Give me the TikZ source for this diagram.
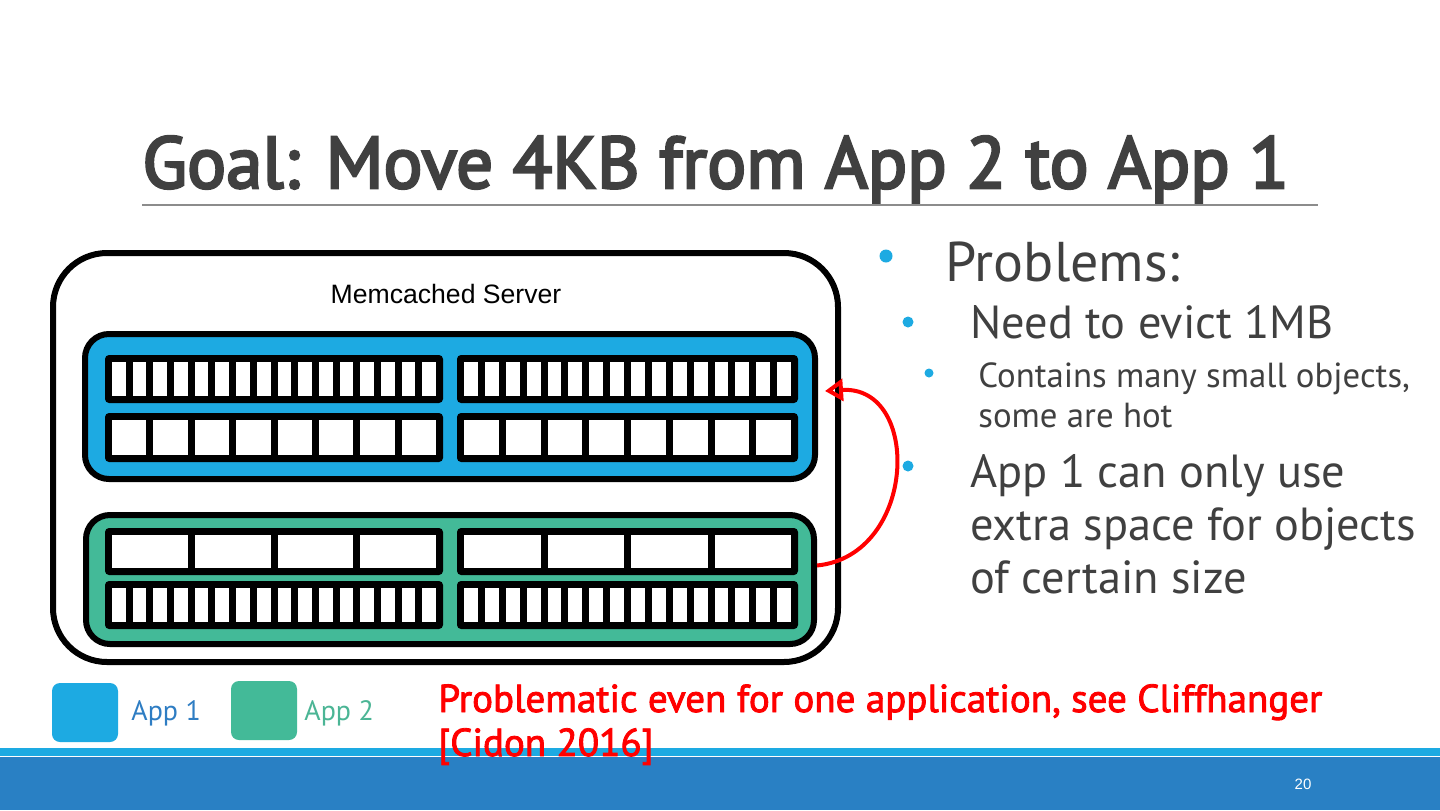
\documentclass[tikz,border=0pt]{standalone}
\usepackage{fontspec}
\setmainfont{PT Sans}
\newfontfamily\titlefont{PT Sans}[FakeBold=3.5]
\newfontfamily\medfont{PT Sans}[FakeBold=2.2]
\newfontfamily\arialfont{Liberation Sans}
\usetikzlibrary{arrows.meta, positioning, calc}
\definecolor{appblue}{RGB}{29,170,226}
\definecolor{appgreen}{RGB}{67,186,152}
\definecolor{titlegrey}{RGB}{64,64,64}
\definecolor{rulegrey}{RGB}{140,140,140}
\definecolor{barblue}{RGB}{41,128,196}
\definecolor{textblue}{RGB}{46,125,195}
\definecolor{textgreen}{RGB}{75,181,149}
\tikzset{
  server/.style={rectangle, draw=black, fill=white, line width=3pt,
    rounded corners=27pt},
  appbox/.style={rectangle, draw=black, line width=3pt, inner sep=0pt,
    rounded corners=12pt},
  legendbox/.style={rectangle, rounded corners=4pt, inner sep=0pt,
    minimum width=33pt, minimum height=29.5pt},
  dot/.style={circle, fill=appblue, inner sep=0pt},
  txt/.style={anchor=base west, inner sep=0pt, text=titlegrey},
  lvlone/.style={txt, font=\fontsize{28}{33}\selectfont},
  lvltwo/.style={txt, font=\fontsize{23.2}{28}\selectfont},
  lvlthree/.style={txt, font=\fontsize{17.4}{21}\selectfont},
  redtext/.style={anchor=base west, inner sep=0pt, text=red,
    font=\medfont\fontsize{19.5}{24}\selectfont},
  movearrow/.style={-{Triangle[open, length=9pt, width=11pt]},
    line width=2pt, color=red}
}
% one slab: black strip with n white cells
\newcommand{\slab}[5]{%
  \fill[black, rounded corners=2pt] (#1,#2) rectangle (#3,#4);
  \pgfmathsetmacro{\cw}{((#3)-(#1)-14-7*((#5)-1))/(#5)}
  \foreach \k in {1,...,#5} {
    \pgfmathsetmacro{\cx}{#1+7+(\k-1)*(\cw+7)}
    \fill[white] (\cx,#2+7) rectangle ({\cx+\cw},#4-7);
  }
}
\begin{document}
\begin{tikzpicture}[x=0.5pt, y=-0.5pt]
  \useasboundingbox (0,0) rectangle (1440,810);
  \fill[white] (0,0) rectangle (1440,810);

  % Title
  \node[txt, font=\titlefont\fontsize{36.5}{42}\selectfont] (title) at (142,188)
    {Goal: Move 4KB from App 2 to App 1};
  \draw[rulegrey, line width=0.6pt] (142,205) -- (1318,205);

  % Memcached server
  \node[server, minimum width=392.5pt, minimum height=204.5pt] (srv)
    at (445.5,457.5) {};
  \node[anchor=base, inner sep=0pt, font=\arialfont\fontsize{13.3}{16}\selectfont]
    (srvlabel) at (446,303) {Memcached Server};

  % App 1 and App 2 slab classes
  \node[appbox, fill=appblue, minimum width=365pt, minimum height=72.5pt]
    (app1) at (450,406.5) {};
  \node[appbox, fill=appgreen, minimum width=364pt, minimum height=64.5pt]
    (app2) at (450,579.5) {};

  \slab{105}{355}{443}{403}{16}
  \slab{457}{355}{798}{403}{16}
  \slab{105}{413}{443}{462}{8}
  \slab{457}{413}{798}{462}{8}

  \slab{105}{528}{443}{575}{4}
  \slab{457}{528}{798}{575}{4}
  \slab{105}{581}{443}{629}{16}
  \slab{457}{581}{798}{629}{16}

  % Move memory from App 2 to App 1
  \draw[movearrow] ([yshift=7pt]app2.east) .. controls +(100,-10) and +(97,-6)
    .. ([xshift=3.5pt, yshift=7.75pt]app1.east);

  % Bullets
  \node[dot, minimum size=6.5pt] (d1) at (886,256) {};
  \node[lvlone] (prob) at (945,281) {Problems:};
  \node[dot, minimum size=5.5pt] (d2) at (908,322) {};
  \node[lvltwo] (evict) at (970,338) {Need to evict 1MB};
  \node[dot, minimum size=4.5pt] (d3) at (929,373) {};
  \node[lvlthree] (small) at (978,387) {Contains many small objects,};
  \node[lvlthree] (hot) at (978,427) {some are hot};
  \node[dot, minimum size=5.5pt] (d4) at (908,466) {};
  \node[lvltwo] (usea) at (970,487) {App 1 can only use};
  \node[lvltwo] (useb) at (970,540) {extra space for objects};
  \node[lvltwo] (usec) at (970,593) {of certain size};

  % Bottom bar
  \fill[appblue] (0,748) rectangle (1440,756);
  \fill[barblue] (0,757) rectangle (1440,810);
  \node[text=white, inner sep=0pt, font=\arialfont\fontsize{7.5}{9}\selectfont]
    (page) at (1303,784) {20};

  % Legend
  \node[legendbox, fill=appblue] (leg1) at (85,712.5) {};
  \node[anchor=base west, inner sep=0pt, text=textblue,
    font=\fontsize{14}{16}\selectfont] (leg1txt) at (131,720) {App 1};
  \node[legendbox, fill=appgreen] (leg2) at (264,710.5) {};
  \node[anchor=base west, inner sep=0pt, text=textgreen,
    font=\fontsize{14}{16}\selectfont] (leg2txt) at (304,720) {App 2};

  % Note
  \node[redtext] (note) at (438,712)
    {Problematic even for one application, see Cliffhanger};
  \node[redtext] (cite) at (438,756) {[Cidon 2016]};
\end{tikzpicture}
\end{document}
